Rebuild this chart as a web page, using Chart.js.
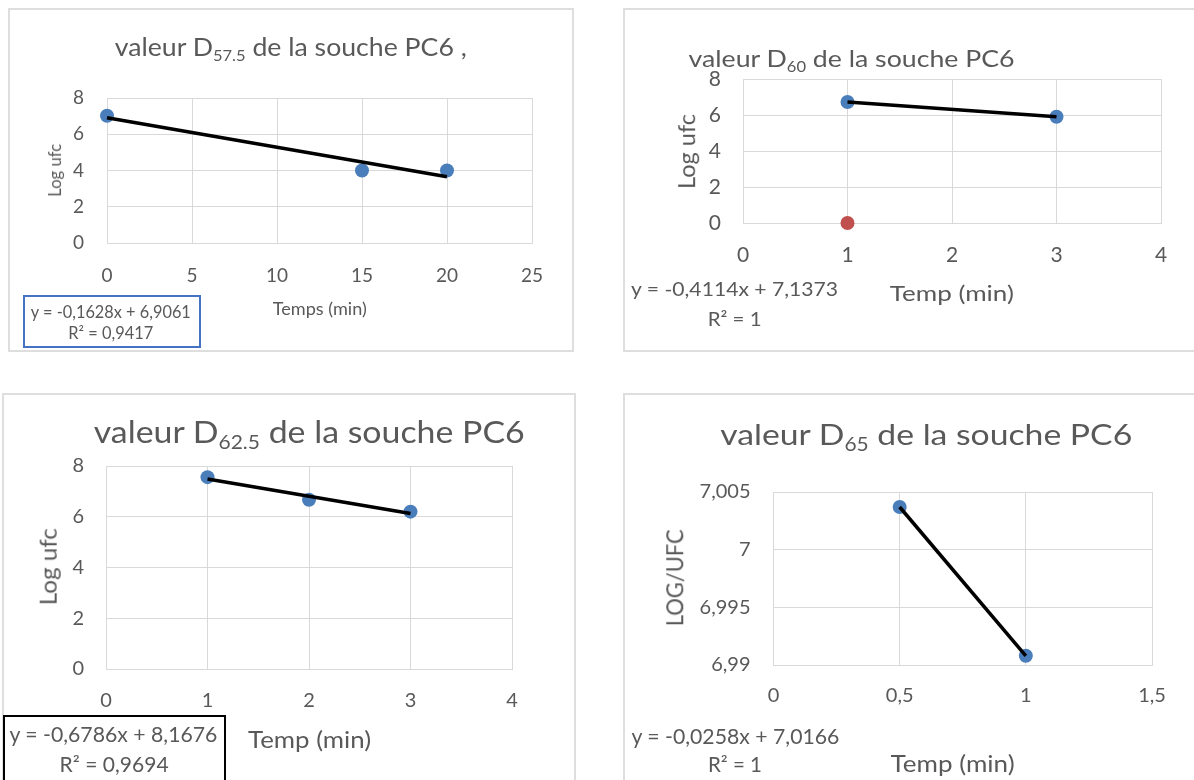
<!DOCTYPE html>
<html><head><meta charset="utf-8">
<script src="https://cdn.jsdelivr.net/npm/chart.js@4"></script>
<style>
html,body{margin:0;padding:0;background:#fff;width:1194px;height:780px;overflow:hidden;position:relative;}
.frame{position:absolute;border:2px solid #dedede;box-sizing:border-box;}
canvas{position:absolute;}
.box{position:absolute;box-sizing:border-box;background:#fff;}
.t{position:absolute;white-space:nowrap;line-height:1;color:#595959;font-family:Lato,sans-serif;left:0;top:0;transform-origin:50% 50%;}
.sub{font-size:0.62em;position:relative;top:0.32em;}
</style></head><body>
<div class="frame" style="left:8px;top:8px;width:566px;height:344px"></div>
<div class="frame" style="left:623px;top:8px;width:600px;height:344px"></div>
<div class="frame" style="left:2px;top:393px;width:574px;height:420px"></div>
<div class="frame" style="left:623px;top:393px;width:600px;height:420px"></div>
<script>
// ---------- DATA ----------
// Chart 1 : valeur D57.5
const c1X = [0, 15, 20];
const c1Y = [7.02, 4.0, 4.0];
const c1TrendX = [0, 20];
const c1TrendY = [6.906, 3.650];
const c1XTicks = [0, 5, 10, 15, 20, 25];
const c1YTicks = [0, 2, 4, 6, 8];
// Chart 2 : valeur D60
const c2X = [1, 3];
const c2Y = [6.726, 5.903];
const c2RedX = [1];
const c2RedY = [0];
const c2TrendX = [1, 3];
const c2TrendY = [6.726, 5.903];
const c2XTicks = [0, 1, 2, 3, 4];
const c2YTicks = [0, 2, 4, 6, 8];
// Chart 3 : valeur D62.5
const c3X = [1, 2, 3];
const c3Y = [7.56, 6.67, 6.20];
const c3TrendX = [1, 3];
const c3TrendY = [7.489, 6.132];
const c3XTicks = [0, 1, 2, 3, 4];
const c3YTicks = [0, 2, 4, 6, 8];
// Chart 4 : valeur D65
const c4X = [0.5, 1];
const c4Y = [7.0037, 6.9908];
const c4TrendX = [0.5, 1];
const c4TrendY = [7.0037, 6.9908];
const c4XTicks = [0, 0.5, 1, 1.5];
const c4YTicks = [6.99, 6.995, 7, 7.005];

const BLUE = '#4a7ebb', RED = '#c0504d', GRID = '#d9d9d9', TXT = '#595959';
const zip = (xs, ys) => xs.map((x, i) => ({x: x, y: ys[i]}));
const fmt = v => String(v).replace('.', ',');

function pointsDs(xs, ys, color) {
  return {data: zip(xs, ys), showLine: false, pointRadius: 7, pointHoverRadius: 7,
          pointBackgroundColor: color, pointBorderWidth: 0, clip: false, order: 2};
}
function trendDs(xs, ys) {
  return {data: zip(xs, ys), showLine: true, borderColor: '#000', borderWidth: 3.5,
          pointRadius: 0, clip: false, order: 0};
}

function chart(o) {
  const cv = document.createElement('canvas');
  cv.width = o.w; cv.height = o.h;
  cv.style.left = o.left + 'px'; cv.style.top = o.top + 'px';
  cv.style.width = o.w + 'px'; cv.style.height = o.h + 'px';
  document.body.appendChild(cv);
  const tickFont = {family: 'Lato', size: o.fs};
  new Chart(cv, {
    type: 'scatter',
    data: {datasets: o.datasets},
    options: {
      responsive: false, animation: false, devicePixelRatio: 1, events: [],
      layout: {padding: {left: 0, top: o.padTop, right: o.padRight, bottom: 0}},
      plugins: {legend: {display: false}, tooltip: {enabled: false}, title: {display: false}},
      scales: {
        x: {type: 'linear', min: o.xTicks[0], max: o.xTicks[o.xTicks.length - 1],
            afterBuildTicks: s => { s.ticks = o.xTicks.map(v => ({value: v})); },
            afterFit: s => { s.height = o.xH; },
            ticks: {font: tickFont, color: TXT, padding: o.xPad, maxRotation: 0, autoSkip: false, callback: v => fmt(v)},
            grid: {color: GRID, lineWidth: 1, drawTicks: false},
            border: {color: GRID, width: 1}},
        y: {type: 'linear', min: o.yTicks[0], max: o.yTicks[o.yTicks.length - 1],
            afterBuildTicks: s => { s.ticks = o.yTicks.map(v => ({value: v})); },
            afterFit: s => { s.width = o.yW; },
            ticks: {font: tickFont, color: TXT, padding: o.yPad, autoSkip: false, callback: v => fmt(v)},
            grid: {color: GRID, lineWidth: 1, drawTicks: false},
            border: {color: GRID, width: 1}}
      }
    }
  });
}

chart({left: 8, top: 8, w: 566, h: 344, padTop: 90, padRight: 42, yW: 99, xH: 109, fs: 19, xPad: 21, yPad: 23,
       xTicks: c1XTicks, yTicks: c1YTicks,
       datasets: [trendDs(c1TrendX, c1TrendY), pointsDs(c1X, c1Y, BLUE)]});
chart({left: 623, top: 8, w: 571, h: 344, padTop: 71, padRight: 33, yW: 120, xH: 129, fs: 21, xPad: 20, yPad: 22,
       xTicks: c2XTicks, yTicks: c2YTicks,
       datasets: [trendDs(c2TrendX, c2TrendY), pointsDs(c2X, c2Y, BLUE), pointsDs(c2RedX, c2RedY, RED)]});
chart({left: 2, top: 393, w: 574, h: 387, padTop: 73, padRight: 64, yW: 104, xH: 111, fs: 20, xPad: 20, yPad: 22,
       xTicks: c3XTicks, yTicks: c3YTicks,
       datasets: [trendDs(c3TrendX, c3TrendY), pointsDs(c3X, c3Y, BLUE)]});
chart({left: 623, top: 393, w: 571, h: 387, padTop: 99, padRight: 42, yW: 150.5, xH: 115, fs: 20, xPad: 19, yPad: 23,
       xTicks: c4XTicks, yTicks: c4YTicks,
       datasets: [trendDs(c4TrendX, c4TrendY), pointsDs(c4X, c4Y, BLUE)]});

// equation boxes
function box(l, t, w, h, border) {
  const b = document.createElement('div'); b.className = 'box';
  b.style.cssText += `left:${l}px;top:${t}px;width:${w}px;height:${h}px;border:${border};`;
  document.body.appendChild(b);
}
box(23, 295, 178, 53, '2px solid #4472c4');
box(3, 715, 223, 100, '2px solid #000');

// text placement: font size from glyph height, horizontally scaled to the reference width, aligned on baseline
const texts = [];
function txt(html, a, base, w, fs, rot) { texts.push({html, a, base, w, fs, rot}); }
function layoutTexts() {
  document.querySelectorAll('.t').forEach(e => e.remove());
  for (const o of texts) {
    const el = document.createElement('div'); el.className = 't';
    el.innerHTML = o.html + '<span class="bl" style="display:inline-block;width:0;height:0;vertical-align:baseline"></span>';
    el.style.fontSize = o.fs + 'px';
    document.body.appendChild(el);
    const r = el.getBoundingClientRect();
    const b = el.querySelector('.bl').getBoundingClientRect().top - r.top;
    const W = r.width, H = r.height;
    const sx = o.w / W;
    if (!o.rot) {
      el.style.left = (o.a - W / 2) + 'px';
      el.style.top = (o.base - b) + 'px';
      el.style.transform = `scaleX(${sx})`;
    } else {
      const cx = o.base - (b - H / 2);
      el.style.left = (cx - W / 2) + 'px';
      el.style.top = (o.a - H / 2) + 'px';
      el.style.transform = `rotate(-90deg) scaleX(${sx})`;
    }
  }
}
// Chart 1
txt('valeur D<span class="sub">57.5</span> de la souche PC6 ,', 291, 56, 352, 24.5);
txt('Log ufc', 170, 61, 53, 16.5, true);
txt('Temps (min)', 320, 315, 94, 18);
txt('y = -0,1628x + 6,9061', 111, 318, 160, 16.5);
txt('R² = 0,9417', 111, 339, 85, 16.5);
// Chart 2
txt('valeur D<span class="sub">60</span> de la souche PC6', 852, 67, 326, 23.5);
txt('Log ufc', 151, 695, 75, 23, true);
txt('Temp (min)', 952, 301, 124, 20.5);
txt('y = -0,4114x + 7,1373', 735, 296, 207, 19.5);
txt('R² = 1', 735, 326, 54, 19.5);
// Chart 3
txt('valeur D<span class="sub">62.5</span> de la souche PC6', 309, 443, 431, 31);
txt('Log ufc', 567, 57, 77, 23.5, true);
txt('Temp (min)', 310, 748, 123, 22.5);
txt('y = -0,6786x + 8,1676', 113, 742, 208, 20.5);
txt('R² = 0,9694', 114, 772, 109, 20.5);
// Chart 4
txt('valeur D<span class="sub">65</span> de la souche PC6', 926, 445, 412, 29.5);
txt('LOG/UFC', 578, 683, 97, 23.5, true);
txt('Temp (min)', 953, 772, 124, 22.5);
txt('y = -0,0258x + 7,0166', 735, 744, 208, 20.5);
txt('R² = 1', 735, 772, 54, 20.5);

layoutTexts();
if (document.fonts && document.fonts.ready) document.fonts.ready.then(layoutTexts);
</script>
</body></html>
